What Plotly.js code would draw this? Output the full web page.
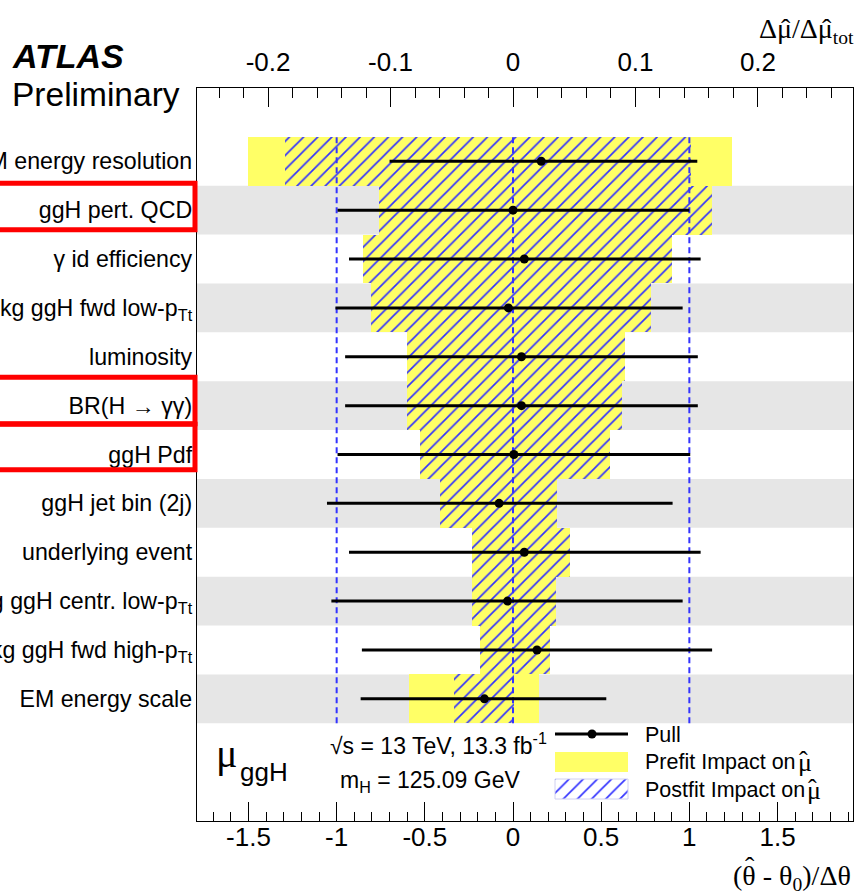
<!DOCTYPE html>
<html>
<head>
<meta charset="utf-8">
<script src="https://cdn.plot.ly/plotly-3.0.1.min.js"></script>
<style>
  html, body { margin: 0; padding: 0; background: #ffffff; }
  #chart { width: 856px; height: 894px; }
</style>
</head>
<body>
<div id="chart"></div>
<script>
// Nuisance parameters, ranked top to bottom
const labels = [
  "EM energy resolution",
  "ggH pert. QCD",
  "\u03b3 id efficiency",
  "Bkg ggH fwd low-p<sub>Tt</sub>",
  "luminosity",
  "BR(H \u2192 \u03b3\u03b3)",
  "ggH Pdf",
  "ggH jet bin (2j)",
  "underlying event",
  "Bkg ggH centr. low-p<sub>Tt</sub>",
  "Bkg ggH fwd high-p<sub>Tt</sub>",
  "EM energy scale"
];

// Pulls (theta_hat - theta0)/Delta theta with asymmetric errors
const pull      = [0.16, 0.0, 0.064, -0.026, 0.048, 0.048, 0.005, -0.079, 0.064, -0.031, 0.136, -0.162];
const pullErrLo = [0.86, 0.995, 0.994, 0.981, 1.0, 1.0, 1.0, 0.976, 0.994, 0.999, 0.993, 0.702];
const pullErrHi = [0.885, 1.0, 1.0, 0.988, 1.0, 1.0, 1.0, 0.984, 1.0, 0.993, 0.993, 0.691];

// Prefit impact on mu_hat (relative to total uncertainty)
const prefitLo  = [-0.216, -0.109, -0.1225, -0.1156, -0.0866, -0.0866, -0.0763, -0.0592, -0.0335, -0.0335, -0.0267, -0.0848];
const prefitHi  = [0.179, 0.1625, 0.130, 0.1129, 0.0913, 0.0890, 0.0794, 0.0356, 0.0462, 0.0349, 0.0298, 0.0212];

// Postfit impact on mu_hat
const postfitLo = [-0.186, -0.109, -0.1225, -0.1156, -0.0866, -0.0866, -0.0763, -0.0592, -0.0335, -0.0335, -0.0267, -0.048];
const postfitHi = [0.145, 0.1625, 0.130, 0.1129, 0.0913, 0.0890, 0.0794, 0.0356, 0.0462, 0.0349, 0.0298, 0.001];

const topTicks = [-0.2, -0.1, 0, 0.1, 0.2];
const topTickText = ["-0.2", "-0.1", "0", "0.1", "0.2"];
const bottomTicks = [-1.5, -1, -0.5, 0, 0.5, 1, 1.5];
const bottomTickText = ["-1.5", "-1", "-0.5", "0", "0.5", "1", "1.5"];
const pullRefLines = [-1, 0, 1];

const nRows = labels.length;
const rowPos = labels.map((_, i) => nRows - 1 - i);

const SANS = "Liberation Sans, Arial, Helvetica, sans-serif";
const SERIF = "Liberation Serif, Times New Roman, serif";
const YELLOW = "#ffff66";
const HATCH = "#3333ff";
const HAT = "\u02c6";

// page geometry helpers (plot area spans x 197..853, y 88..821)
const L = 197, R = 3, T = 88, B = 73, W = 856, H = 894;
const pw = W - L - R, ph = H - T - B;
const ax = px => (px - L) / pw;
const ay = py => (H - B - py) / ph;

const hatchPattern = { shape: "/", fgcolor: HATCH, bgcolor: "rgba(0,0,0,0)", size: 10, solidity: 0.17 };

const traces = [];

function impactBar(vals, hatched) {
  return {
    type: "bar", orientation: "h",
    x: vals, y: rowPos, base: 0, width: 1,
    xaxis: "x", yaxis: "y",
    hoverinfo: "skip", showlegend: false,
    marker: hatched
      ? { color: "rgba(0,0,0,0)", line: { width: 0 }, pattern: hatchPattern }
      : { color: YELLOW, line: { width: 0 } }
  };
}
traces.push(impactBar(prefitLo, false));
traces.push(impactBar(prefitHi, false));
traces.push(impactBar(postfitLo, true));
traces.push(impactBar(postfitHi, true));

// +/-1 sigma and 0 reference lines on the pull axis
pullRefLines.forEach(v => {
  traces.push({
    type: "scatter", mode: "lines",
    x: [v, v], y: [-0.5, nRows - 0.5],
    xaxis: "x2", yaxis: "y",
    line: { color: HATCH, width: 2, dash: "6px,4px" },
    hoverinfo: "skip", showlegend: false
  });
});

// pulls
traces.push({
  type: "scatter", mode: "markers",
  x: pull, y: rowPos, xaxis: "x2", yaxis: "y",
  marker: { color: "#000", size: 9 },
  error_x: { type: "data", symmetric: false, array: pullErrHi, arrayminus: pullErrLo,
             color: "#000", thickness: 3, width: 0 },
  hoverinfo: "skip", showlegend: false
});

// hatched legend swatch
traces.push({
  type: "bar", orientation: "h", x: [1], y: [0], base: 0, width: 1,
  xaxis: "x3", yaxis: "y3", hoverinfo: "skip", showlegend: false,
  marker: { color: "rgba(0,0,0,0)", line: { width: 0 }, pattern: hatchPattern }
});

const shapes = [];
// alternating grey bands
rowPos.forEach((p, i) => {
  if (i % 2 === 1) {
    shapes.push({ type: "rect", xref: "paper", yref: "y", x0: 0, x1: 1, y0: p - 0.5, y1: p + 0.5,
                  fillcolor: "#e6e6e6", line: { width: 0 }, layer: "below" });
  }
});
// highlighted rows
[[9.6, 10.55], [5.63, 6.58], [4.69, 5.62]].forEach(([y0, y1]) => {
  shapes.push({ type: "rect", xref: "paper", yref: "y", x0: -0.5, x1: ax(195), y0, y1,
                line: { color: "#ff0000", width: 5 }, fillcolor: "rgba(0,0,0,0)", layer: "above" });
});
// legend: pull line + marker, prefit swatch, hatched swatch outline
shapes.push({ type: "line", xref: "paper", yref: "paper", x0: ax(555), x1: ax(628), y0: ay(734), y1: ay(734),
              line: { color: "#000", width: 3 } });
shapes.push({ type: "circle", xref: "paper", yref: "paper", x0: ax(587.5), x1: ax(596.5), y0: ay(738.5), y1: ay(729.5),
              fillcolor: "#000", line: { width: 0 } });
shapes.push({ type: "rect", xref: "paper", yref: "paper", x0: ax(555), x1: ax(628), y0: ay(772), y1: ay(752),
              fillcolor: YELLOW, line: { width: 0 } });
shapes.push({ type: "rect", xref: "paper", yref: "paper", x0: ax(555), x1: ax(628), y0: ay(799), y1: ay(779),
              fillcolor: "rgba(0,0,0,0)", line: { color: "#d0d0f0", width: 1 } });

const ann = (text, px, py, size, opts = {}) => Object.assign({
  text, xref: "paper", yref: "paper", x: ax(px), y: ay(py),
  xanchor: "left", yanchor: "middle", showarrow: false,
  font: { family: SANS, size, color: "#000" }
}, opts);
const serif = (text, px, py, size, opts = {}) =>
  ann(text, px, py, size, Object.assign({ font: { family: SERIF, size, color: "#000" } }, opts));

const annotations = [
  ann("<b><i>ATLAS</i></b>", 10, 56, 34),
  ann("Preliminary", 10, 94, 33.5),
  // top axis title: delta mu-hat over delta mu-hat total
  serif("\u0394\u03bc/\u0394\u03bc<sub>tot</sub>", 856, 30, 28, { xanchor: "right" }),
  serif(HAT, 786, 28, 28, { xanchor: "center" }),
  serif(HAT, 827, 28, 28, { xanchor: "center" }),
  // bottom axis title: (theta-hat - theta0)/delta theta
  serif("(\u03b8 - \u03b8<sub>0</sub>)/\u0394\u03b8", 853, 877, 28, { xanchor: "right" }),
  serif(HAT, 749.5, 867, 28, { xanchor: "center" }),
  // parameter of interest and run conditions
  serif("\u03bc", 214, 753, 40),
  ann("ggH", 238, 772, 26),
  ann("\u221as = 13 TeV, 13.3 fb<sup>-1</sup>", 328, 744, 23),
  ann("m<sub>H</sub> = 125.09 GeV", 338, 781, 23),
  // legend entries
  ann("Pull", 643, 735, 21.5),
  ann("Prefit Impact on", 643, 762, 21.5),
  serif("\u03bc", 796, 762, 26),
  serif(HAT, 803.5, 760, 26, { xanchor: "center" }),
  ann("Postfit Impact on", 643, 790, 21.5),
  serif("\u03bc", 805, 790, 26),
  serif(HAT, 812.5, 788, 26, { xanchor: "center" })
];

const axisCommon = {
  showline: true, linecolor: "#000", linewidth: 1.2, showgrid: false, zeroline: false,
  ticks: "inside", tickcolor: "#000", tickwidth: 1, ticklen: 19,
  tickfont: { family: SANS, size: 26, color: "#000" }, fixedrange: true
};

const layout = {
  width: W, height: H,
  margin: { l: L, r: R, t: T, b: B, pad: 0 },
  paper_bgcolor: "#ffffff", plot_bgcolor: "rgba(0,0,0,0)",
  barmode: "overlay", bargap: 0, showlegend: false,
  xaxis: Object.assign({}, axisCommon, {
    side: "top", anchor: "y", range: [-0.258, 0.2776],
    tickmode: "array", tickvals: topTicks, ticktext: topTickText,
    ticklabelstandoff: 5,
    minor: { tickmode: "linear", tick0: 0, dtick: 0.02, ticks: "inside", ticklen: 9.5, tickcolor: "#000", tickwidth: 1 }
  }),
  xaxis2: Object.assign({}, axisCommon, {
    side: "bottom", overlaying: "x", anchor: "y", range: [-1.792, 1.928],
    tickmode: "array", tickvals: bottomTicks, ticktext: bottomTickText,
    ticklabelstandoff: -7,
    minor: { tickmode: "linear", tick0: 0, dtick: 0.1, ticks: "inside", ticklen: 9.5, tickcolor: "#000", tickwidth: 1 }
  }),
  yaxis: {
    range: [-2.5, 12.5], showline: true, mirror: true, linecolor: "#000", linewidth: 1.2,
    showgrid: false, zeroline: false, ticks: "",
    tickmode: "array", tickvals: rowPos, ticktext: labels,
    tickfont: { family: SANS, size: 23.2, color: "#000" }, ticklabelstandoff: -1, fixedrange: true
  },
  xaxis3: { domain: [ax(555), ax(628)], anchor: "y3", range: [0, 1], visible: false, fixedrange: true },
  yaxis3: { domain: [ay(799), ay(779)], anchor: "x3", range: [-0.5, 0.5], visible: false, fixedrange: true },
  shapes, annotations
};

Plotly.newPlot("chart", traces, layout, { displayModeBar: false, staticPlot: true });
</script>
</body>
</html>
